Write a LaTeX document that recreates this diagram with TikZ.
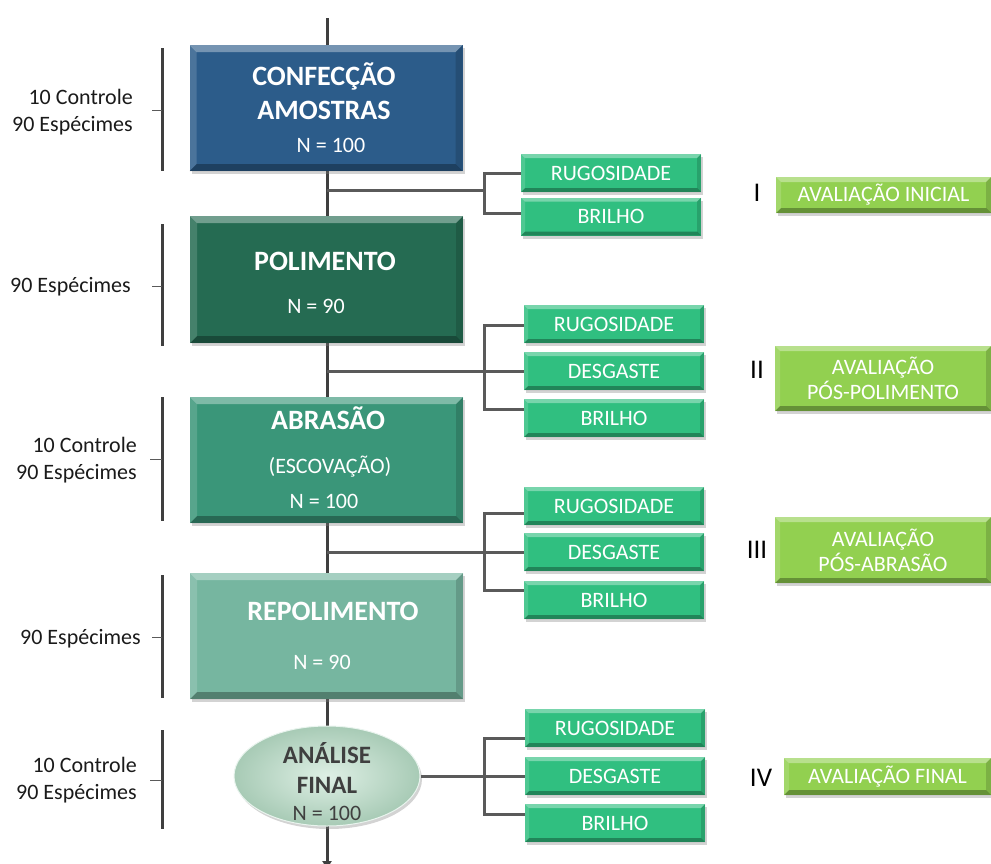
\documentclass[tikz,border=0pt]{standalone}
\usepackage{fontspec}
\setmainfont{Carlito}
\usetikzlibrary{shadows,calc,arrows.meta,shapes.geometric}
\definecolor{cblue}{HTML}{2C5C8A}
\definecolor{cdkgreen}{HTML}{256B52}
\definecolor{cmdgreen}{HTML}{3A9679}
\definecolor{cltgreen}{HTML}{76B6A0}
\definecolor{csmall}{HTML}{30BF80}
\definecolor{ceval}{HTML}{92D050}
\definecolor{cell}{HTML}{B6DCC5}
\definecolor{cline}{HTML}{5A5A5A}
\definecolor{cspine}{HTML}{3F3F3F}
\definecolor{ctext}{HTML}{1A1A1A}
\definecolor{cetext}{HTML}{3F3F3F}
\tikzset{
  bev/.style={path picture={
    \path (path picture bounding box.north west) coordinate (pNW)
          (path picture bounding box.north east) coordinate (pNE)
          (path picture bounding box.south west) coordinate (pSW)
          (path picture bounding box.south east) coordinate (pSE);
    \fill[white,opacity=.35] (pNW) -- (pNE) -- ([shift={(-#1,-#1)}]pNE) -- ([shift={(#1,-#1)}]pNW) -- cycle;
    \fill[black,opacity=.30] (pSW) -- (pSE) -- ([shift={(-#1,#1)}]pSE) -- ([shift={(#1,#1)}]pSW) -- cycle;
    \fill[white,opacity=.15] (pNW) -- ([shift={(#1,-#1)}]pNW) -- ([shift={(#1,#1)}]pSW) -- (pSW) -- cycle;
    \fill[black,opacity=.15] (pNE) -- ([shift={(-#1,-#1)}]pNE) -- ([shift={(-#1,#1)}]pSE) -- (pSE) -- cycle;
  }},
  shad/.style={drop shadow={opacity=.35,shadow xshift=2pt,shadow yshift=-3pt}},
  mainbox/.style={fill=#1,draw=none,minimum width=273pt,minimum height=126pt,inner sep=0pt,bev=7pt,shad},
  smallbox/.style={fill=csmall,draw=none,minimum width=180pt,minimum height=38pt,inner sep=0pt,bev=4pt,shad,
    text=white,font=\fontsize{22pt}{25pt}\selectfont},
  evalbox/.style={fill=ceval,draw=none,inner sep=0pt,bev=5pt,shad,align=center,
    text=white,font=\fontsize{22pt}{25pt}\selectfont},
  ttl/.style={text=white,font=\fontsize{28pt}{32pt}\selectfont\bfseries,inner sep=0pt,anchor=base},
  sub/.style={text=white,font=\fontsize{22pt}{25pt}\selectfont,inner sep=0pt,anchor=base},
  side/.style={text=ctext,font=\fontsize{22pt}{27pt}\selectfont,align=right,anchor=east,inner sep=0pt},
  roman/.style={text=black,font=\fontsize{27pt}{30pt}\selectfont,inner sep=0pt},
  conn/.style={draw=cline,line width=3pt},
  spine/.style={draw=cspine,line width=3pt},
  brk/.style={draw=cspine,line width=3pt},
  tick/.style={draw=cline,line width=1pt},
}
\begin{document}
\begin{tikzpicture}[x=1pt,y=-1pt]
\useasboundingbox (0,0) rectangle (991,863);

% spine coordinates
\coordinate (top) at (327,18);
\coordinate (bot) at (327,869);
\coordinate (s1) at (327,190);
\coordinate (s2) at (327,371);
\coordinate (s3) at (327,552);
\coordinate (j1) at (484,190);
\coordinate (j2) at (484,371);
\coordinate (j3) at (484,552);
\coordinate (j4) at (484,776);

% spine
\draw[spine] (top) -- (327,45) coordinate (b1top);
\draw[spine] (327,171) -- (327,216);
\draw[spine] (327,343) -- (327,397);
\draw[spine] (327,523) -- (327,573);
\draw[spine] (327,699) -- (327,728);
\draw[spine,-{Triangle[width=9pt,length=8pt]}] (327,826) -- (bot);

% branch connectors (behind boxes)
\draw[conn] (s1) -- (j1);
\draw[conn] (s2) -- (j2);
\draw[conn] (s3) -- (j3);

% main boxes
\node[mainbox=cblue]    (box1) at (326,108) {};
\node[mainbox=cdkgreen,minimum height=127pt] (box2) at (326.5,279.5) {};
\node[mainbox=cmdgreen] (box3) at (326.5,460) {};
\node[mainbox=cltgreen] (box4) at (326.5,636) {};
\node[ellipse,minimum width=186pt,minimum height=100pt,inner sep=0pt,draw=white!70!cell,line width=1pt,
      inner color=cell!45!white,outer color=cell!92!black,shad] (ell) at (327,776) {};

% main box texts
\node[ttl] (t1a) at (324,85) {CONFECÇÃO};
\node[ttl] (t1b) at (324,119) {AMOSTRAS};
\node[sub] (t1c) at (331,152) {N = 100};
\node[ttl] (t2a) at (325,270) {POLIMENTO};
\node[sub] (t2b) at (316,313) {N = 90};
\node[ttl] (t3a) at (328,429) {ABRASÃO};
\node[sub] (t3b) at (330,473) {(ESCOVAÇÃO)};
\node[sub] (t3c) at (324,508) {N = 100};
\node[ttl] (t4a) at (333,620) {REPOLIMENTO};
\node[sub] (t4b) at (322,669) {N = 90};
\node[ttl,text=cetext,font=\fontsize{25pt}{30pt}\selectfont\bfseries] (t5a) at (327,763) {ANÁLISE};
\node[ttl,text=cetext,font=\fontsize{25pt}{30pt}\selectfont\bfseries] (t5b) at (327,793) {FINAL};
\node[sub,text=cetext] (t5c) at (327,820) {N = 100};

% small boxes
\node[smallbox] (r1) at (611,173) {RUGOSIDADE};
\node[smallbox] (b1) at (611,216.5) {BRILHO};
\node[smallbox] (r2) at (614,324) {RUGOSIDADE};
\node[smallbox] (d2) at (614,371) {DESGASTE};
\node[smallbox] (b2) at (614,418) {BRILHO};
\node[smallbox] (r3) at (614,506) {RUGOSIDADE};
\node[smallbox] (d3) at (614,552) {DESGASTE};
\node[smallbox] (b3) at (614,600) {BRILHO};
\node[smallbox] (r4) at (615,728) {RUGOSIDADE};
\node[smallbox] (d4) at (615,776) {DESGASTE};
\node[smallbox] (b4) at (615,823) {BRILHO};

% branch trees
\draw[conn] (r1.west) -| (j1) |- ([yshift=3pt]b1.west);
\draw[conn] ([yshift=-1pt]r2.west) -| (j2) |- ([yshift=9pt]b2.west);
\draw[conn] (j2) -- (d2.west);
\draw[conn] ([yshift=-7pt]r3.west) -| (j3) |- ([yshift=10pt]b3.west);
\draw[conn] (j3) -- (d3.west);
\draw[conn] (ell.east) -- (j4);
\draw[conn] ([yshift=-10pt]r4.west) -| (j4) |- ([yshift=9pt]b4.west);
\draw[conn] (j4) -- (d4.west);

% evaluation boxes
\node[evalbox,minimum width=215pt,minimum height=36pt] (e1) at (883.5,195) {AVALIAÇÃO INICIAL};
\node[evalbox,minimum width=216pt,minimum height=65pt] (e2) at (883,378.5) {AVALIAÇÃO\\PÓS-POLIMENTO};
\node[evalbox,minimum width=216pt,minimum height=66pt] (e3) at (883,550) {AVALIAÇÃO\\PÓS-ABRASÃO};
\node[evalbox,minimum width=207pt,minimum height=37pt] (e4) at (887.5,776.5) {AVALIAÇÃO FINAL};

% roman numerals
\node[roman] (n1) at (757,193) {I};
\node[roman] (n2) at (757,370) {II};
\node[roman] (n3) at (757,550) {III};
\node[roman] (n4) at (761,778) {IV};

% left brackets
\draw[brk] (162,48) -- (162,171);
\draw[tick] (152,110) -- (162,110);
\draw[brk] (162,224) -- (162,346);
\draw[tick] (152,286) -- (162,286);
\draw[brk] (162,397) -- (162,521);
\draw[tick] (150,459) -- (162,459);
\draw[brk] (162,575) -- (162,698);
\draw[tick] (152,637) -- (162,637);
\draw[brk] (162,730) -- (162,829);
\draw[tick] (150,780) -- (162,780);

\node[side] (l1) at (133,112) {10 Controle\\90 Espécimes};
\node[side] (l2) at (131,287) {90 Espécimes};
\node[side] (l3) at (137,460) {10 Controle\\90 Espécimes};
\node[side] (l4) at (141,639) {90 Espécimes};
\node[side] (l5) at (137,780) {10 Controle\\90 Espécimes};
\end{tikzpicture}
\end{document}
